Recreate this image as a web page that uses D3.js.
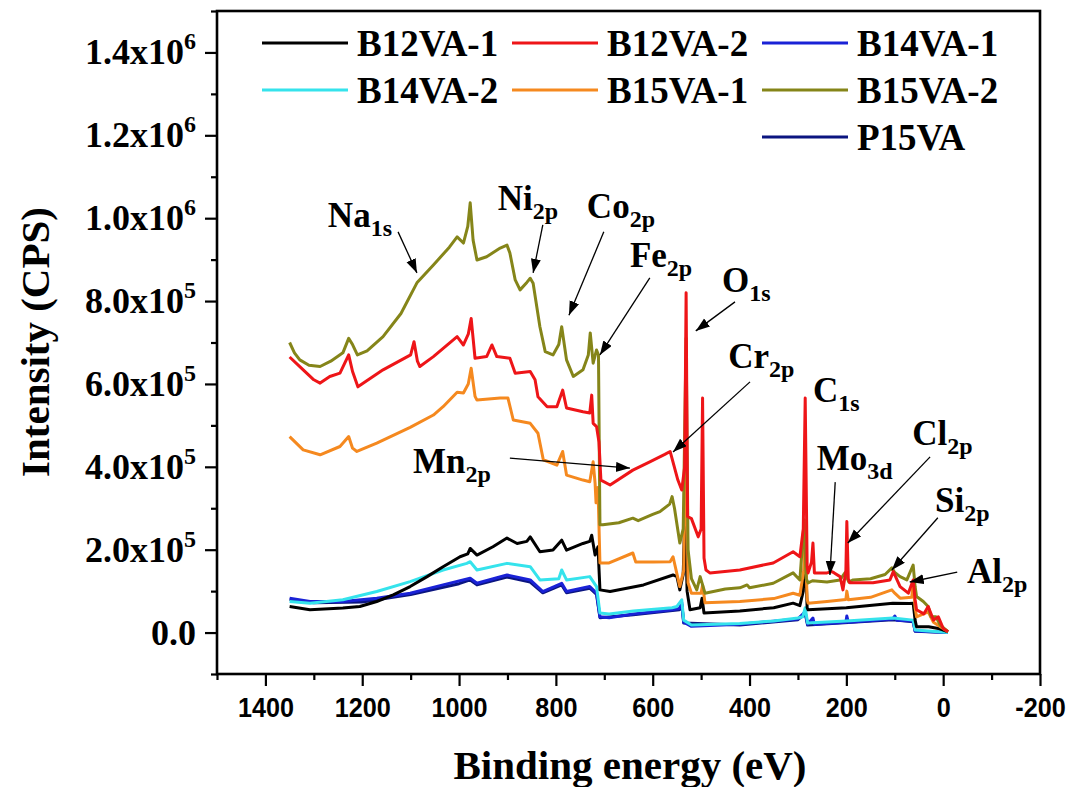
<!DOCTYPE html>
<html>
<head>
<meta charset="utf-8">
<script src="https://cdn.jsdelivr.net/npm/d3@7"></script>
<style>
  body { margin: 0; background: #ffffff; }
  svg { display: block; }
  .serif { font-family: "Liberation Serif", "Times New Roman", serif; font-weight: bold; fill: #000; }
  .sans { font-family: "Liberation Sans", Arial, sans-serif; font-weight: bold; fill: #000; }
</style>
</head>
<body>
<svg id="chart" width="1074" height="787"></svg>
<script>
// [binding energy (eV), intensity (x10^5 CPS)]
var b12va1 = [[1350,0.63],[1308,0.55],[1240,0.59],[1205,0.63],[1170,0.75],[1136,0.91],[1101,1.11],[1066,1.35],
  [1033,1.59],[998,1.83],[982,1.9],[977,2.03],[963,1.87],[930,2.07],[901,2.28],[880,2.15],[860,2.2],[853,2.31],
  [833,1.95],[806,1.99],[788,2.23],[778,1.99],[744,2.15],[730,2.2],[726,2.35],[719,1.87],[713,2.07],[709,1.03],
  [688,0.99],[619,1.15],[558,1.39],[550,1.35],[544,1.03],[537,1.4],[533,3.16],[529,1.0],[523,0.55],[502,0.6],
  [498,0.83],[494,0.47],[420,0.52],[350,0.6],[310,0.71],[296,0.65],[289,1.0],[285,2.0],[281,0.6],[279,0.55],
  [200,0.6],[104,0.71],[70,0.7],[62,0.71],[58,0.3],[55,0.14],[30,0.14],[10,0.1],[0,0.06],[-10,0.02]];

var b12va2 = [[1350,6.65],[1329,6.42],[1300,6.1],[1287,6.02],[1267,6.18],[1246,6.26],[1228,6.7],[1220,6.3],
  [1209,5.93],[1157,6.34],[1100,6.7],[1093,7.02],[1086,6.55],[1081,6.42],[1053,6.66],[1004,7.14],[991,6.94],
  [981,7.2],[975,7.58],[967,6.62],[943,6.66],[932,6.94],[922,6.66],[895,6.62],[884,6.26],[853,6.3],[843,6.1],
  [837,5.69],[818,5.45],[798,5.45],[786,5.85],[778,5.42],[744,5.33],[730,5.3],[726,5.73],[723,5.05],[716,4.97],
  [711,4.6],[707,3.68],[688,3.56],[641,3.92],[606,4.12],[575,4.3],[564,4.37],[548,3.68],[540,3.44],[534,4.0],
  [531,8.2],[528,2.8],[520,2.75],[506,2.31],[500,2.5],[497,5.66],[494,1.8],[490,1.51],[482,1.44],[420,1.51],
  [351,1.68],[310,1.95],[296,1.83],[289,2.5],[285,5.66],[281,1.6],[279,1.44],[272,1.7],[269,2.16],[266,1.44],
  [240,1.44],[230,1.47],[225,1.44],[213,1.35],[207,1.03],[201,1.5],[199,2.68],[196,1.3],[193,1.2],[145,1.2],
  [110,1.27],[103,1.47],[89,1.11],[72,0.95],[62,1.27],[58,0.8],[55,0.55],[40,0.45],[31,0.63],[20,0.3],
  [10,0.38],[0,0.1],[-10,0.02]];

var b14va1 = [[1350,0.83],[1308,0.75],[1240,0.75],[1170,0.83],[1101,0.95],[1033,1.15],[977,1.31],[963,1.19],
  [901,1.39],[853,1.27],[827,0.99],[788,1.19],[778,0.99],[730,1.11],[716,0.95],[709,0.38],[690,0.36],
  [640,0.45],[560,0.55],[545,0.58],[540,0.72],[536,0.25],[520,0.15],[420,0.2],[300,0.33],[285,0.5],[280,0.2],
  [269,0.35],[266,0.2],[201,0.25],[199,0.4],[196,0.25],[104,0.33],[100,0.4],[96,0.3],[62,0.28],[58,0.04],[-10,0.0]];

var b14va2 = [[1350,0.75],[1308,0.71],[1240,0.79],[1170,0.99],[1101,1.23],[1033,1.51],[984,1.67],[977,1.71],
  [963,1.51],[901,1.67],[853,1.59],[833,1.27],[794,1.3],[788,1.51],[778,1.27],[730,1.35],[716,1.11],[709,0.47],
  [690,0.45],[640,0.52],[560,0.6],[550,0.63],[540,0.79],[536,0.3],[520,0.18],[420,0.22],[350,0.28],[300,0.35],
  [290,0.38],[285,0.6],[280,0.23],[200,0.28],[104,0.35],[62,0.3],[58,0.06],[-10,0.0]];

var b15va1 = [[1350,4.73],[1322,4.41],[1287,4.29],[1246,4.49],[1228,4.73],[1220,4.45],[1211,4.37],[1170,4.57],
  [1101,4.95],[1053,5.25],[1033,5.45],[1004,5.8],[991,5.78],[981,6.0],[975,6.38],[967,5.7],[963,5.61],
  [915,5.66],[899,5.66],[888,5.13],[853,5.05],[837,4.81],[826,4.17],[798,4.04],[786,4.37],[778,3.8],
  [744,3.68],[730,3.64],[723,4.12],[719,3.6],[717,3.13],[713,3.5],[709,1.68],[690,1.68],[641,1.92],[635,1.7],
  [600,1.7],[564,1.71],[558,1.83],[544,1.11],[536,1.5],[531,5.3],[527,1.2],[520,0.95],[500,0.95],[497,1.15],
  [492,0.72],[420,0.75],[350,0.82],[310,0.95],[296,0.9],[288,1.5],[285,2.23],[281,0.8],[279,0.71],[240,0.75],
  [201,0.8],[199,1.0],[196,0.79],[150,0.85],[106,1.03],[100,0.95],[89,0.83],[65,0.85],[62,1.2],[58,0.6],
  [55,0.38],[31,0.5],[20,0.25],[-10,0.02]];

var b15va2 = [[1350,7.0],[1340,6.75],[1329,6.58],[1310,6.45],[1287,6.42],[1265,6.55],[1240,6.75],[1228,7.1],
  [1220,6.95],[1210,6.7],[1190,6.8],[1157,7.14],[1120,7.7],[1087,8.44],[1053,8.87],[1020,9.3],[1004,9.55],
  [991,9.4],[982,9.8],[977,10.37],[971,9.47],[963,8.99],[943,9.07],[915,9.28],[901,9.35],[895,9.16],[884,8.51],
  [874,8.27],[860,8.45],[853,8.55],[847,8.43],[833,7.38],[822,6.78],[806,6.7],[794,6.95],[788,7.38],[778,6.58],
  [764,6.18],[744,6.34],[733,6.7],[729,7.23],[723,6.5],[716,6.82],[712,6.7],[709,2.6],[703,2.6],[670,2.65],
  [641,2.76],[630,2.7],[600,2.85],[585,2.92],[565,3.1],[560,3.28],[555,3.0],[544,2.16],[537,2.5],[531,7.1],
  [527,2.0],[520,1.3],[509,1.03],[502,1.35],[492,0.95],[450,1.05],[420,1.08],[405,1.15],[400,1.08],[351,1.19],
  [310,1.44],[296,1.27],[287,2.72],[283,1.3],[279,1.2],[270,1.25],[240,1.22],[213,1.27],[203,1.44],[195,1.22],
  [186,1.27],[150,1.3],[120,1.4],[106,1.56],[100,1.45],[89,1.35],[75,1.27],[62,1.63],[58,1.11],[55,0.87],
  [41,0.75],[31,0.63],[25,0.38],[15,0.38],[6,0.18],[-10,0.02]];

var p15va = [[1350,0.8],[1300,0.72],[1200,0.74],[1100,0.92],[1000,1.18],[977,1.27],[963,1.15],[901,1.34],
  [853,1.22],[827,0.96],[788,1.15],[778,0.96],[730,1.07],[716,0.92],[709,0.36],[640,0.43],[545,0.55],[540,0.68],
  [536,0.23],[420,0.18],[300,0.31],[285,0.46],[280,0.18],[104,0.31],[62,0.26],[58,0.03],[-10,0.0]];

var seriesNames = ["B12VA-1", "B12VA-2", "B14VA-1", "B14VA-2", "B15VA-1", "B15VA-2", "P15VA"];
var seriesData = [b12va1, b12va2, b14va1, b14va2, b15va1, b15va2, p15va];
var seriesColors = ["#000000", "#ee1518", "#1a22d6", "#35e3ec", "#f5891f", "#858519", "#0b1580"];
// draw order, first is at the back
var drawOrder = [6, 2, 3, 0, 4, 5, 1];
// legend slot for each series (three columns, P15VA sits in the last column)
var legendSlots = [0, 1, 2, 3, 4, 5, 8];

var xTicksMajor = [1400, 1200, 1000, 800, 600, 400, 200, 0, -200];
var xTicksMinor = [1500, 1300, 1100, 900, 700, 500, 300, 100, -100];
var yTickValues = [0, 2, 4, 6, 8, 10, 12, 14];
var yTickMantissa = ["0.0", "2.0x10", "4.0x10", "6.0x10", "8.0x10", "1.0x10", "1.2x10", "1.4x10"];
var yTickExponent = ["", "5", "5", "5", "5", "6", "6", "6"];
var yTicksMinor = [-1, 1, 3, 5, 7, 9, 11, 13, 15];

// peak labels: label, subscript, text anchor point, arrow start, arrow end (E, I)
var peakLabels = [
  { name: "Na", sub: "1s", at: [1271, 9.79], from: [1126, 9.67], to: [1087, 8.68] },
  { name: "Ni", sub: "2p", at: [920, 10.2], from: [827, 9.84], to: [847, 8.68] },
  { name: "Co", sub: "2p", at: [736, 10.0], from: [701, 9.67], to: [773, 7.66] },
  { name: "Fe", sub: "2p", at: [647, 8.82], from: [606, 8.56], to: [709, 6.70] },
  { name: "O", sub: "1s", at: [457, 8.22], from: [430, 7.98], to: [511, 7.28] },
  { name: "Cr", sub: "2p", at: [444, 6.39], from: [399, 6.05], to: [558, 4.36] },
  { name: "Mn", sub: "2p", at: [1095, 3.85], from: [895, 4.21], to: [647, 3.97] },
  { name: "C", sub: "1s", at: [269, 5.57], from: null, to: null },
  { name: "Mo", sub: "3d", at: [261, 3.92], from: [223, 3.63], to: [234, 1.39] },
  { name: "Cl", sub: "2p", at: [64, 4.53], from: [27, 4.24], to: [197, 2.16] },
  { name: "Si", sub: "2p", at: [17, 2.91], from: [11, 2.77], to: [106, 1.51] },
  { name: "Al", sub: "2p", at: [-49, 1.20], from: [-29, 1.46], to: [69, 1.22] }
];

var plot = { left: 217, right: 1040, top: 11, bottom: 674 };

var svg = d3.select("#chart");

var x = d3.scaleLinear().domain([1500, -200]).range([plot.left, plot.right]);
var y = d3.scaleLinear().domain([-1, 15]).range([plot.bottom, plot.top]);

svg.append("defs").append("clipPath").attr("id", "clip")
  .append("rect")
  .attr("x", plot.left).attr("y", plot.top)
  .attr("width", plot.right - plot.left).attr("height", plot.bottom - plot.top);

svg.select("defs").append("marker")
  .attr("id", "arrow")
  .attr("markerUnits", "userSpaceOnUse")
  .attr("markerWidth", 16).attr("markerHeight", 12)
  .attr("refX", 14).attr("refY", 5)
  .attr("orient", "auto")
  .append("path")
  .attr("d", "M0,0 L14,5 L0,10 Z")
  .attr("fill", "#000");

// spectra
var line = d3.line()
  .x(function(d) { return x(d[0]); })
  .y(function(d) { return y(d[1]); });

var curves = svg.append("g").attr("clip-path", "url(#clip)");
drawOrder.forEach(function(i) {
  curves.append("path")
    .attr("d", line(seriesData[i]))
    .attr("fill", "none")
    .attr("stroke", seriesColors[i])
    .attr("stroke-width", 3)
    .attr("stroke-linejoin", "round");
});

// x axis
var xAxisMajor = d3.axisBottom(x).tickValues(xTicksMajor).tickSize(12).tickPadding(11)
  .tickFormat(function(d) { return d; });
var gx = svg.append("g").attr("transform", "translate(0," + plot.bottom + ")").call(xAxisMajor);
gx.selectAll("text").attr("class", "sans").style("font-size", "28px").attr("fill", "#000");
gx.selectAll("text").each(function() {
  var len = this.getComputedTextLength();
  d3.select(this).attr("textLength", len * 0.9).attr("lengthAdjust", "spacingAndGlyphs");
});
svg.append("g").attr("transform", "translate(0," + plot.bottom + ")")
  .call(d3.axisBottom(x).tickValues(xTicksMinor).tickSize(6).tickFormat(""));

// y axis
var gy = svg.append("g").attr("transform", "translate(" + plot.left + ",0)")
  .call(d3.axisLeft(y).tickValues(yTickValues).tickSize(12).tickFormat(""));
svg.append("g").attr("transform", "translate(" + plot.left + ",0)")
  .call(d3.axisLeft(y).tickValues(yTicksMinor).tickSize(6).tickFormat(""));

svg.selectAll(".domain").remove();
svg.selectAll(".tick line").attr("stroke", "#000").attr("stroke-width", 2.2);

var ylab = svg.append("g");
yTickValues.forEach(function(v, i) {
  var t = ylab.append("text")
    .attr("class", "serif")
    .attr("x", 196)
    .attr("y", y(v) + 12)
    .attr("text-anchor", "end")
    .style("font-size", "36px");
  t.append("tspan").text(yTickMantissa[i]);
  if (yTickExponent[i]) {
    t.append("tspan").attr("dy", -15).style("font-size", "24px").text(yTickExponent[i]);
  }
});

// frame
svg.append("rect")
  .attr("x", plot.left).attr("y", plot.top)
  .attr("width", plot.right - plot.left).attr("height", plot.bottom - plot.top)
  .attr("fill", "none").attr("stroke", "#000").attr("stroke-width", 2.6);

// axis titles
svg.append("text")
  .attr("class", "serif")
  .attr("x", 630).attr("y", 779)
  .attr("text-anchor", "middle")
  .style("font-size", "41px")
  .text("Binding energy (eV)");

svg.append("text")
  .attr("class", "serif")
  .attr("transform", "translate(49,342) rotate(-90)")
  .attr("text-anchor", "middle")
  .style("font-size", "41px")
  .text("Intensity (CPS)");

// legend
var legendColX = [262, 512, 762];
var legendRowY = [43, 90, 137];
var legend = svg.append("g");
seriesNames.forEach(function(name, i) {
  var slot = legendSlots[i];
  var lx = legendColX[slot % 3];
  var ly = legendRowY[Math.floor(slot / 3)];
  legend.append("line")
    .attr("x1", lx).attr("x2", lx + 86)
    .attr("y1", ly).attr("y2", ly)
    .attr("stroke", seriesColors[i]).attr("stroke-width", 3);
  legend.append("text")
    .attr("class", "serif")
    .attr("x", lx + 95).attr("y", ly + 13)
    .style("font-size", "37px")
    .text(name);
});

// peak annotations
var notes = svg.append("g");
peakLabels.forEach(function(p) {
  var t = notes.append("text")
    .attr("class", "serif")
    .attr("x", x(p.at[0])).attr("y", y(p.at[1]))
    .style("font-size", "35px");
  t.append("tspan").text(p.name);
  t.append("tspan").attr("dy", 9).style("font-size", "24px").text(p.sub);
  if (p.from) {
    notes.append("line")
      .attr("x1", x(p.from[0])).attr("y1", y(p.from[1]))
      .attr("x2", x(p.to[0])).attr("y2", y(p.to[1]))
      .attr("stroke", "#000").attr("stroke-width", 1.3)
      .attr("marker-end", "url(#arrow)");
  }
});
</script>
</body>
</html>
